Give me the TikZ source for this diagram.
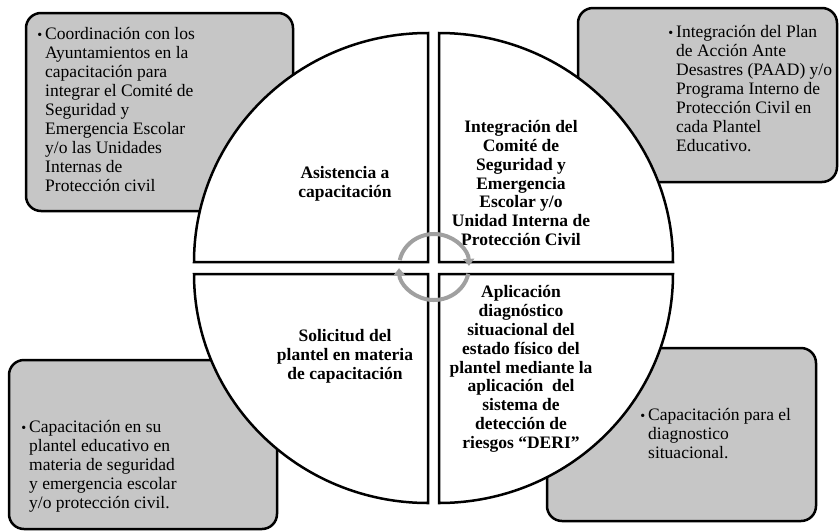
\documentclass[tikz,border=0pt]{standalone}
\usepackage{fontspec}
\setmainfont{Liberation Serif}
\usetikzlibrary{arrows.meta}
\definecolor{boxgray}{RGB}{198,198,198}
\definecolor{ringgray}{RGB}{160,160,160}
\newcommand{\itembullet}{\llap{{\fontsize{14}{14}\selectfont\textbullet}\hspace{3pt}}}

\begin{document}
\begin{tikzpicture}[x=1pt, y=-1pt,
    infobox/.style={draw=black, fill=boxgray, line width=2.5pt, rounded corners=15pt},
    quadrant/.style={draw=black, fill=white, line width=2.5pt, line join=miter},
    itemtext/.style={anchor=north west, align=left, inner sep=0pt, font=\fontsize{17.5}{19}\selectfont},
    steptext/.style={align=center, inner sep=0pt, font=\bfseries\fontsize{17.5}{18.8}\selectfont},
    cyclearrow/.style={draw=ringgray, line width=4pt, -{Triangle[length=7pt,width=11pt]}}]
    \useasboundingbox (0,0) rectangle (839,531);

    % Boxes
    \draw[infobox] (26,13) rectangle (293,211);
    \draw[infobox] (578,8) rectangle (837,182);
    \draw[infobox] (9,360) rectangle (277,529);
    \draw[infobox] (547,348) rectangle (816,521);

    % Box texts
    \node[itemtext] (coordtext) at (45,27) {\itembullet Coordinación con los\\Ayuntamientos en la\\capacitación para\\integrar el Comité de\\Seguridad y\\Emergencia Escolar\\y/o las Unidades\\Internas de\\Protección civil};
    \node[itemtext] (plantext) at (676,25.5) {\itembullet Integración del Plan\\de Acción Ante\\Desastres (PAAD) y/o\\Programa Interno de\\Protección Civil en\\cada Plantel\\Educativo.};
    \node[itemtext] (capatext) at (29,420.5) {\itembullet Capacitación en su\\plantel educativo en\\materia de seguridad\\y emergencia escolar\\y/o protección civil.};
    \node[itemtext] (diagtext) at (648,408) {\itembullet Capacitación para el\\diagnostico\\situacional.};

    % Quadrants
    \draw[quadrant] (428,262) -- (194,262) arc[start angle=180, end angle=270, x radius=234, y radius=229] -- cycle;
    \draw[quadrant] (439,262) -- (439,33) arc[start angle=270, end angle=360, x radius=234, y radius=229] -- cycle;
    \draw[quadrant] (439,274) -- (673,274) arc[start angle=0, end angle=90, x radius=234, y radius=229] -- cycle;
    \draw[quadrant] (428,274) -- (428,503) arc[start angle=90, end angle=180, x radius=234, y radius=229] -- cycle;

    % Quadrant texts
    \node[steptext] (assist) at (345,184) {Asistencia a\\capacitación};
    \node[steptext] (integra) at (521,183) {Integración del\\Comité de\\Seguridad y\\Emergencia\\Escolar y/o\\Unidad Interna de\\Protección Civil};
    \node[steptext] (solicit) at (345,356) {Solicitud del\\plantel en materia\\de capacitación};
    \node[steptext] (aplica) at (521,369) {Aplicación\\diagnóstico\\situacional del\\estado físico del\\plantel mediante la\\aplicación\ \ del\\sistema de\\detección de\\riesgos “DERI”};

    % Cycle ring
    \coordinate (hub) at (434,267);
    \draw[cyclearrow] (hub) ++(192:35 and 33) arc[start angle=192, end angle=358, x radius=35, y radius=33];
    \draw[cyclearrow] (hub) ++(12:35 and 33) arc[start angle=12, end angle=178, x radius=35, y radius=33];
\end{tikzpicture}
\end{document}
